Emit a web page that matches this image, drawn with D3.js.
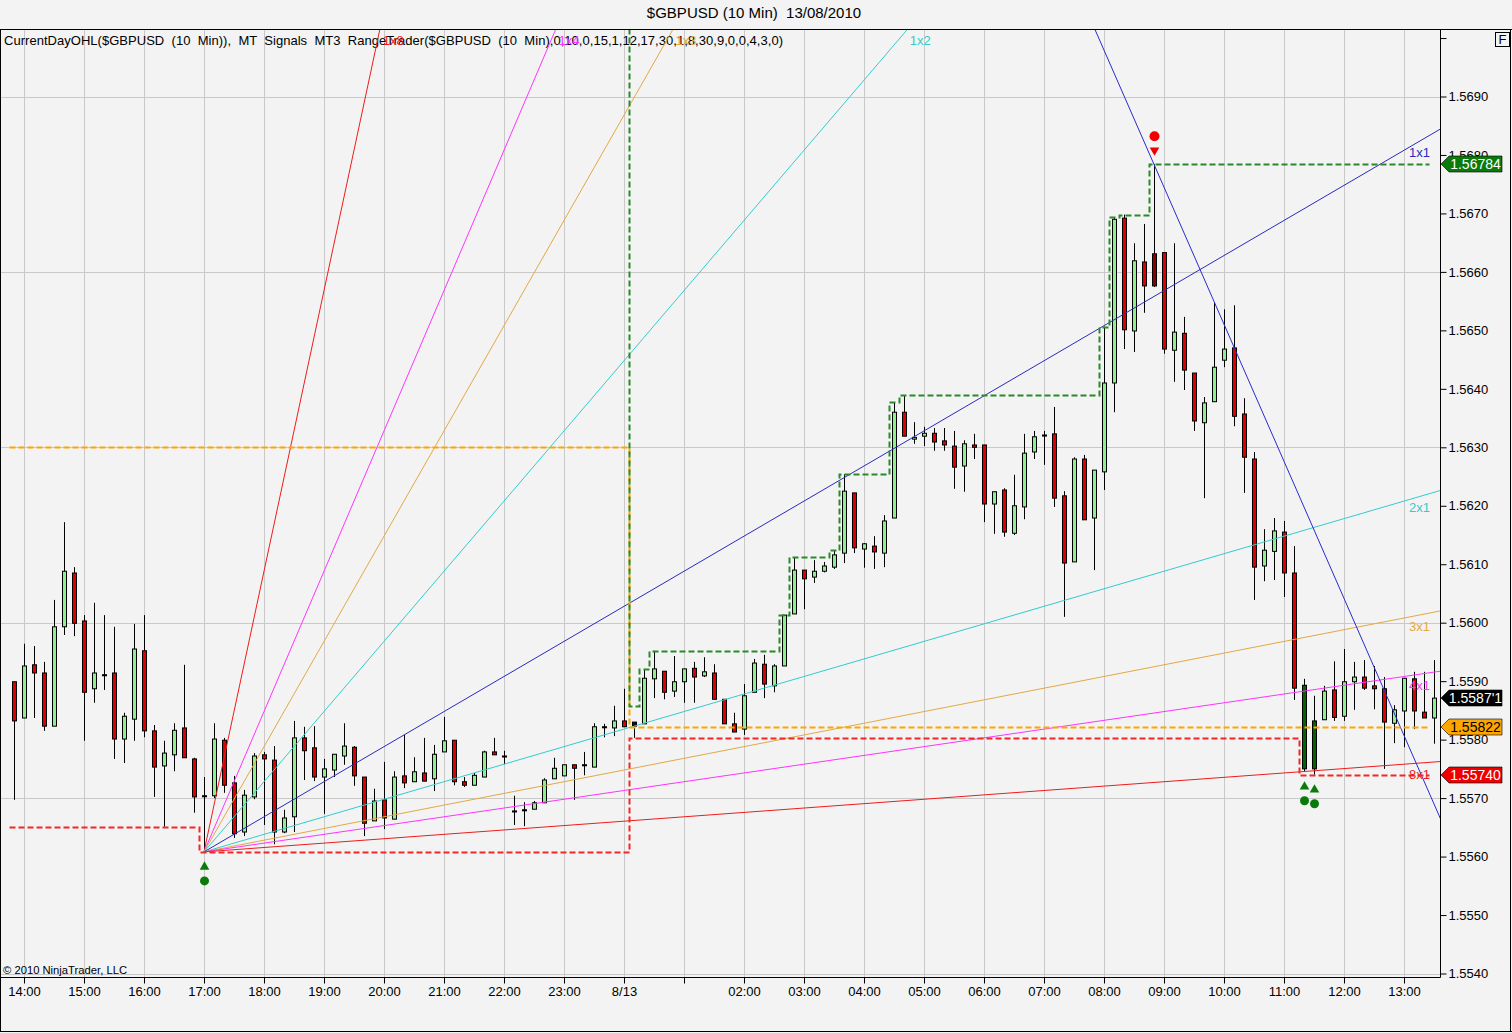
<!DOCTYPE html>
<html>
<head>
<meta charset="utf-8">
<script src="https://cdn.jsdelivr.net/npm/d3@7"></script>
<style>
  body { margin: 0; background: #f3f3f3; }
  svg { display: block; font-family: "Liberation Sans", Arial, sans-serif; }
  .pre { white-space: pre; }
</style>
</head>
<body>
<svg id="chart" width="1512" height="1033"></svg>
<script>
// ---- data ----
const firstBar = "2010-08-12 13:50";
const barMinutes = 10;

const open = [1.55899,1.55837,1.55928,1.55914,1.55823,1.55993,1.56085,1.56003,1.55887,1.55911,
  1.55914,1.55801,1.55835,1.55952,1.55815,1.55755,1.55774,1.55820,1.55767,1.55704,
  1.55704,1.55799,1.55726,1.55642,1.55702,1.55774,1.55765,1.55642,1.55668,1.55803,
  1.55786,1.55736,1.55748,1.55772,1.55787,1.55736,1.55661,1.55697,1.55664,1.55738,
  1.55728,1.55743,1.55733,1.55779,1.55799,1.55728,1.55722,1.55736,1.55779,1.55772,
  1.55678,1.55680,1.55681,1.55692,1.55733,1.55738,1.55757,1.55757,1.55753,1.55822,
  1.55820,1.55832,1.55830,1.55827,1.55904,1.55917,1.55883,1.55899,1.55922,1.55909,
  1.55914,1.55869,1.55827,1.55818,1.55881,1.55929,1.55892,1.55926,1.56015,1.56090,
  1.56078,1.56088,1.56095,1.56119,1.56222,1.56126,1.56131,1.56119,1.56179,1.56360,
  1.56314,1.56319,1.56324,1.56311,1.56302,1.56268,1.56304,1.56304,1.56203,1.56227,
  1.56153,1.56198,1.56292,1.56321,1.56323,1.56217,1.56104,1.56280,1.56179,1.56258,
  1.56410,1.56692,1.56499,1.56617,1.56631,1.56633,1.56466,1.56495,1.56427,1.56342,
  1.56378,1.56449,1.56470,1.56357,1.56280,1.56097,1.56122,1.56155,1.56085,1.55893,
  1.55750,1.55834,1.55885,1.55840,1.55899,1.55907,1.55892,1.55887,1.55828,1.55849,
  1.55904,1.55847,1.55837];
const high = [1.55899,1.55964,1.55960,1.55933,1.56039,1.56172,1.56095,1.56013,1.56034,1.56013,
  1.55993,1.55846,1.55998,1.56013,1.55825,1.55798,1.55828,1.55928,1.55769,1.55736,
  1.55828,1.55803,1.55738,1.55714,1.55777,1.55779,1.55789,1.55680,1.55832,1.55822,
  1.55823,1.55767,1.55775,1.55828,1.55789,1.55736,1.55716,1.55762,1.55746,1.55808,
  1.55770,1.55803,1.55791,1.55839,1.55799,1.55736,1.55743,1.55781,1.55803,1.55781,
  1.55704,1.55693,1.55695,1.55734,1.55769,1.55757,1.55757,1.55779,1.55828,1.55827,
  1.55858,1.55887,1.55830,1.55921,1.55952,1.55917,1.55943,1.55921,1.55933,1.55941,
  1.55929,1.55869,1.55846,1.55895,1.55938,1.55945,1.55929,1.56013,1.56112,1.56090,
  1.56107,1.56104,1.56124,1.56254,1.56222,1.56136,1.56148,1.56184,1.56377,1.56389,
  1.56343,1.56335,1.56333,1.56333,1.56328,1.56312,1.56323,1.56304,1.56224,1.56230,
  1.56253,1.56323,1.56328,1.56328,1.56369,1.56225,1.56283,1.56287,1.56261,1.56506,
  1.56694,1.56698,1.56649,1.56682,1.56784,1.56633,1.56649,1.56523,1.56427,1.56386,
  1.56548,1.56536,1.56543,1.56384,1.56292,1.56160,1.56179,1.56174,1.56131,1.55904,
  1.55875,1.55892,1.55934,1.55955,1.55933,1.55936,1.55926,1.55907,1.55859,1.55905,
  1.55916,1.55916,1.55936];
const low = [1.55697,1.55837,1.55837,1.55815,1.55823,1.55979,1.55977,1.55798,1.55863,1.55885,
  1.55767,1.55760,1.55798,1.55804,1.55702,1.55651,1.55746,1.55769,1.55675,1.55608,
  1.55700,1.55709,1.55632,1.55635,1.55698,1.55654,1.55621,1.55640,1.55642,1.55731,
  1.55729,1.55673,1.55736,1.55757,1.55721,1.55635,1.55661,1.55647,1.55664,1.55717,
  1.55728,1.55729,1.55712,1.55779,1.55722,1.55719,1.55722,1.55736,1.55774,1.55758,
  1.55654,1.55652,1.55681,1.55692,1.55733,1.55738,1.55697,1.55739,1.55753,1.55804,
  1.55806,1.55822,1.55803,1.55827,1.55871,1.55869,1.55873,1.55863,1.55863,1.55907,
  1.55869,1.55827,1.55813,1.55808,1.55881,1.55871,1.55881,1.55926,1.56015,1.56023,
  1.56068,1.56086,1.56092,1.56102,1.56119,1.56094,1.56092,1.56095,1.56179,1.56319,
  1.56306,1.56302,1.56294,1.56294,1.56229,1.56224,1.56280,1.56172,1.56152,1.56147,
  1.56150,1.56177,1.56280,1.56270,1.56198,1.56010,1.56104,1.56176,1.56090,1.56227,
  1.56360,1.56468,1.56463,1.56530,1.56574,1.56460,1.56412,1.56398,1.56328,1.56213,
  1.56378,1.56437,1.56336,1.56222,1.56039,1.56071,1.56073,1.56044,1.55868,1.55745,
  1.55740,1.55834,1.55832,1.55832,1.55851,1.55885,1.55852,1.55750,1.55794,1.55787,
  1.55818,1.55837,1.55793];
const close = [1.55832,1.55926,1.55914,1.55823,1.55993,1.56088,1.55999,1.55881,1.55914,1.55911,
  1.55801,1.55840,1.55955,1.55815,1.55753,1.55777,1.55816,1.55769,1.55702,1.55704,
  1.55801,1.55722,1.55639,1.55705,1.55772,1.55767,1.55642,1.55666,1.55803,1.55781,
  1.55736,1.55750,1.55775,1.55789,1.55738,1.55657,1.55695,1.55666,1.55736,1.55726,
  1.55745,1.55729,1.55775,1.55798,1.55728,1.55722,1.55739,1.55779,1.55774,1.55772,
  1.55678,1.55680,1.55692,1.55731,1.55751,1.55757,1.55751,1.55757,1.55822,1.55822,
  1.55832,1.55822,1.55823,1.55905,1.55921,1.55881,1.55899,1.55921,1.55907,1.55916,
  1.55869,1.55827,1.55813,1.55875,1.55931,1.55895,1.55926,1.56013,1.56090,1.56075,
  1.56088,1.56097,1.56116,1.56225,1.56128,1.56135,1.56121,1.56174,1.56360,1.56319,
  1.56317,1.56324,1.56309,1.56304,1.56266,1.56306,1.56300,1.56203,1.56224,1.56155,
  1.56200,1.56290,1.56318,1.56321,1.56213,1.56102,1.56280,1.56176,1.56261,1.56410,
  1.56690,1.56501,1.56619,1.56576,1.56576,1.56468,1.56497,1.56432,1.56345,1.56376,
  1.56437,1.56468,1.56353,1.56283,1.56095,1.56124,1.56157,1.56085,1.55888,1.55750,
  1.55832,1.55883,1.55838,1.55899,1.55907,1.55888,1.55887,1.55830,1.55851,1.55905,
  1.55849,1.55837,1.55871];

// CurrentDayOHL step levels (bar index where each level starts)
const dayOpenBars = [0, 62];
const dayOpenValues = [1.56300, 1.55822];
const dayHighBars = [0, 62, 63, 64, 77, 78, 82, 83, 88, 89, 109, 110, 111, 114];
const dayHighValues = [1.5725, 1.55858, 1.55921, 1.55952, 1.56013, 1.56112, 1.56124,
  1.56254, 1.56377, 1.56389, 1.56506, 1.56694, 1.56698, 1.56784];
const dayLowBars = [0, 19, 62, 129];
const dayLowValues = [1.55650, 1.55608, 1.55803, 1.55740];

// Gann fan from the 17:00 low
const gannOriginBar = 19;
const gannOriginPrice = 1.55608;
const gannNames = ["1x8", "1x4", "1x3", "1x2", "1x1", "2x1", "3x1", "4x1", "8x1"];
const gannPipsPerBar = [8, 4, 3, 2, 1, 1 / 2, 1 / 3, 1 / 4, 1 / 8];

// descending trend line through the 08:50 high
const trendBars = [114, 142];
const trendPrices = [1.56784, 1.55690];

// MT signals and painted bars
const buySignalBars = [19, 129, 130];
const sellSignalBars = [114];
const paintedBars = [62, 114, 129, 130];
const paintedKinds = ["flat", "sell", "buy", "buy"];

// price markers on the axis
const tagNames = ["high", "last", "open", "low"];
const tagValues = [1.56784, 1.55871, 1.55822, 1.55740];

// axis ticks
const yTickValues = [1.5540, 1.5550, 1.5560, 1.5570, 1.5580, 1.5590, 1.5600, 1.5610, 1.5620,
  1.5630, 1.5640, 1.5650, 1.5660, 1.5670, 1.5680, 1.5690, 1.5700];
const yTickLabels = ["1.5540", "1.5550", "1.5560", "1.5570", "1.5580", "1.5590", "1.5600", "1.5610",
  "1.5620", "1.5630", "1.5640", "1.5650", "1.5660", "1.5670", "1.5680", "1.5690", ""];
const yGridValues = [1.5540, 1.5570, 1.5600, 1.5630, 1.5660, 1.5690];
const xTickLabels = ["14:00", "15:00", "16:00", "17:00", "18:00", "19:00", "20:00", "21:00",
  "22:00", "23:00", "8/13", "", "02:00", "03:00", "04:00", "05:00", "06:00", "07:00", "08:00",
  "09:00", "10:00", "11:00", "12:00", "13:00"];

// ---- layout ----
const W = 1512, H = 1033;
const plot = { left: 0, right: 1440, top: 30, bottom: 977 };
const pip = 0.0001;

const parse = d3.timeParse("%Y-%m-%d %H:%M");
const t0 = parse(firstBar);
const times = open.map((d, i) => d3.timeMinute.offset(t0, i * barMinutes));
const tickTimes = d3.timeHour.range(parse("2010-08-12 14:00"), parse("2010-08-13 13:01"));

const x = d3.scaleTime()
  .domain([parse("2010-08-12 13:36"), parse("2010-08-13 13:36")])
  .range([plot.left, plot.right]);
const y = d3.scaleLinear()
  .domain([1.5540, 1.5690])
  .range([973.5, 96.5]);

const svg = d3.select("#chart");

svg.append("rect").attr("width", W).attr("height", H).attr("fill", "#f3f3f3");

svg.append("defs").append("clipPath").attr("id", "plotClip")
  .append("rect")
  .attr("x", plot.left).attr("y", plot.top)
  .attr("width", plot.right - plot.left).attr("height", plot.bottom - plot.top);

// title
svg.append("text")
  .attr("x", 754).attr("y", 18)
  .attr("text-anchor", "middle")
  .attr("font-size", 15)
  .attr("class", "pre")
  .text("$GBPUSD (10 Min)  13/08/2010");

// grid
const grid = svg.append("g");
grid.selectAll(".vg").data(tickTimes).enter().append("line")
  .attr("x1", d => Math.round(x(d)) + 0.5).attr("x2", d => Math.round(x(d)) + 0.5)
  .attr("y1", plot.top).attr("y2", plot.bottom)
  .attr("stroke", "#c9c9c9");
grid.selectAll(".hg").data(yGridValues).enter().append("line")
  .attr("x1", plot.left).attr("x2", plot.right)
  .attr("y1", d => Math.round(y(d)) + 0.5).attr("y2", d => Math.round(y(d)) + 0.5)
  .attr("stroke", "#c9c9c9");

// legend + copyright
svg.append("text")
  .attr("x", 4).attr("y", 45)
  .attr("font-size", 13)
  .attr("class", "pre")
  .attr("textLength", 779).attr("lengthAdjust", "spacing")
  .text("CurrentDayOHL($GBPUSD  (10  Min)),  MT  Signals  MT3  RangeTrader($GBPUSD  (10  Min),0,10,0,15,1,12,17,30,1,8,30,9,0,0,4,3,0)");

svg.append("text")
  .attr("x", 3).attr("y", 974)
  .attr("font-size", 11)
  .attr("textLength", 124).attr("lengthAdjust", "spacingAndGlyphs")
  .text("\u00a9 2010 NinjaTrader, LLC");

// ---- candles ----
const paintColor = { flat: "#111111", sell: "#8b0000", buy: "#006400" };
const bars = open.map((o, i) => ({
  i, t: times[i], o, h: high[i], l: low[i], c: close[i],
  paint: paintedBars.includes(i) ? paintColor[paintedKinds[paintedBars.indexOf(i)]] : null
}));

const plotG = svg.append("g").attr("clip-path", "url(#plotClip)");
const candles = plotG.append("g").selectAll("g").data(bars).enter().append("g");

candles.append("line")
  .attr("x1", d => Math.round(x(d.t)) + 0.5)
  .attr("x2", d => Math.round(x(d.t)) + 0.5)
  .attr("y1", d => y(d.h))
  .attr("y2", d => y(d.l))
  .attr("stroke", "#000");

candles.append("rect")
  .attr("x", d => Math.round(x(d.t)) - 1.5)
  .attr("width", 4)
  .attr("y", d => Math.min(y(d.o), y(d.c)))
  .attr("height", d => Math.max(Math.abs(y(d.o) - y(d.c)), 1))
  .attr("fill", d => d.paint ? d.paint : d.c > d.o ? "#90ee90" : d.c < d.o ? "#dd0000" : "#000")
  .attr("stroke", "#000")
  .attr("stroke-width", 1);

// ---- Gann fan ----
const gannColor = {
  "1x8": "#ee1c1c", "8x1": "#ee1c1c",
  "1x4": "#ff33ff", "4x1": "#ff33ff",
  "1x3": "#e3a845", "3x1": "#e3a845",
  "1x2": "#33cccc", "2x1": "#33cccc",
  "1x1": "#2a2abf"
};
const gx0 = x(times[gannOriginBar]);
const gy0 = y(gannOriginPrice);
const farBars = 200;
const farTime = d3.timeMinute.offset(times[gannOriginBar], farBars * barMinutes);

const fan = gannNames.map((name, k) => ({
  name,
  x2: x(farTime),
  y2: y(gannOriginPrice + gannPipsPerBar[k] * pip * farBars)
}));

plotG.append("g").selectAll("line").data(fan).enter().append("line")
  .attr("x1", gx0).attr("y1", gy0)
  .attr("x2", d => d.x2).attr("y2", d => d.y2)
  .attr("stroke", d => gannColor[d.name])
  .attr("stroke-width", 1);

svg.append("g").selectAll("text").data(fan).enter().append("text")
  .attr("font-size", 13)
  .attr("fill", d => gannColor[d.name])
  .each(function (d) {
    const slope = (d.y2 - gy0) / (d.x2 - gx0);
    const xTop = gx0 + (plot.top - gy0) / slope;
    const sel = d3.select(this);
    if (xTop < plot.right) {
      sel.attr("x", xTop + 3).attr("y", 45);
    } else {
      sel.attr("x", 1409).attr("y", gy0 + slope * (1420 - gx0) + 16);
    }
  })
  .text(d => d.name);

// ---- descending trend line ----
const tSlope = (trendPrices[1] - trendPrices[0]) / (trendBars[1] - trendBars[0]);
const tA = trendBars[0] - 20, tB = trendBars[1] + 10;
plotG.append("line")
  .attr("x1", x(d3.timeMinute.offset(t0, tA * barMinutes)))
  .attr("y1", y(trendPrices[0] + tSlope * (tA - trendBars[0])))
  .attr("x2", x(d3.timeMinute.offset(t0, tB * barMinutes)))
  .attr("y2", y(trendPrices[0] + tSlope * (tB - trendBars[0])))
  .attr("stroke", "#2a2ad0")
  .attr("stroke-width", 1);

// ---- CurrentDayOHL step lines ----
function stepSeries(startBars, values) {
  return bars.map(b => {
    const k = d3.bisectRight(startBars, b.i) - 1;
    return { t: b.t, v: values[k] };
  });
}
const stepLine = d3.line()
  .x(d => Math.round(x(d.t)) - 4.5)
  .y(d => Math.round(y(d.v)) + 0.5)
  .curve(d3.curveStepAfter);

const levels = [
  { data: stepSeries(dayOpenBars, dayOpenValues), color: "#ffa500" },
  { data: stepSeries(dayLowBars, dayLowValues), color: "#f02828" },
  { data: stepSeries(dayHighBars, dayHighValues), color: "#2a8a2a" }
];
plotG.append("g").selectAll("path").data(levels).enter().append("path")
  .attr("d", d => stepLine(d.data))
  .attr("fill", "none")
  .attr("stroke", d => d.color)
  .attr("stroke-width", 2)
  .attr("stroke-dasharray", "6,3");

// ---- signals ----
const tri = d3.symbol().type(d3.symbolTriangle).size(40);
const sig = plotG.append("g");
buySignalBars.forEach(i => {
  const cx = Math.round(x(times[i])) + 0.5;
  const ly = y(low[i]);
  sig.append("path").attr("d", tri).attr("transform", `translate(${cx},${ly + 15})`).attr("fill", "#0a7a0a");
  sig.append("circle").attr("cx", cx).attr("cy", ly + 29).attr("r", 4.5).attr("fill", "#0a7a0a");
});
sellSignalBars.forEach(i => {
  const cx = Math.round(x(times[i])) + 0.5;
  const hy = y(high[i]);
  sig.append("path").attr("d", tri).attr("transform", `translate(${cx},${hy - 14}) rotate(180)`).attr("fill", "#ee0000");
  sig.append("circle").attr("cx", cx).attr("cy", hy - 28).attr("r", 5).attr("fill", "#ee0000");
});

// ---- axes ----
const yAxis = d3.axisRight(y)
  .tickValues(yTickValues)
  .tickFormat((d, i) => yTickLabels[i])
  .tickSize(6)
  .tickSizeOuter(0);
const yg = svg.append("g").attr("transform", `translate(${plot.right + 0.5},0)`).call(yAxis);
yg.select(".domain").remove();
yg.selectAll("text").attr("font-size", 13).attr("font-family", "Liberation Sans, Arial, sans-serif").attr("fill", "#000").attr("x", 8);

const xAxis = d3.axisBottom(x)
  .tickValues(tickTimes)
  .tickFormat((d, i) => xTickLabels[i])
  .tickSize(6)
  .tickSizeOuter(0);
const xg = svg.append("g").attr("transform", `translate(0,${plot.bottom + 0.5})`).call(xAxis);
xg.select(".domain").remove();
xg.selectAll("text").attr("font-size", 13).attr("font-family", "Liberation Sans, Arial, sans-serif").attr("fill", "#000");

// frame lines
const frame = svg.append("g").attr("stroke", "#000").attr("stroke-width", 1);
frame.append("line").attr("x1", 0).attr("x2", W).attr("y1", 29.5).attr("y2", 29.5);
frame.append("line").attr("x1", 0.5).attr("x2", 0.5).attr("y1", 29.5).attr("y2", H - 1.5);
frame.append("line").attr("x1", W - 1.5).attr("x2", W - 1.5).attr("y1", 29.5).attr("y2", H - 1.5);
frame.append("line").attr("x1", 0).attr("x2", W).attr("y1", H - 1.5).attr("y2", H - 1.5);
frame.append("line").attr("x1", plot.right + 0.5).attr("x2", plot.right + 0.5).attr("y1", 29.5).attr("y2", plot.bottom + 0.5);
frame.append("line").attr("x1", 0).attr("x2", plot.right + 0.5).attr("y1", plot.bottom + 0.5).attr("y2", plot.bottom + 0.5);

// "F" box
svg.append("rect").attr("x", 1495.5).attr("y", 32.5).attr("width", 14).attr("height", 14)
  .attr("fill", "#f3f3f3").attr("stroke", "#000");
svg.append("text").attr("x", 1502.5).attr("y", 44).attr("text-anchor", "middle")
  .attr("font-size", 13).text("F");

// ---- price tags ----
const tagStyle = {
  high: { bg: "#0b7a0b", fg: "#fff" },
  last: { bg: "#000", fg: "#fff" },
  open: { bg: "#ffa500", fg: "#000" },
  low: { bg: "#ee0000", fg: "#fff" }
};
const fmt5 = d3.format(".5f");
const tagText = (name, v) => {
  const s = fmt5(v);
  return name === "last" ? s.slice(0, 6) + "'" + s.slice(6) : s;
};
const tags = svg.append("g").selectAll("g").data(tagNames).enter().append("g")
  .attr("transform", (d, i) => `translate(0,${Math.round(y(tagValues[i]))})`);
tags.append("path")
  .attr("d", "M1441,0 L1449,-8 L1502,-8 L1502,8 L1449,8 Z")
  .attr("fill", d => tagStyle[d].bg)
  .attr("stroke", "#000")
  .attr("stroke-width", 0.6);
tags.append("text")
  .attr("x", 1475.5).attr("y", 5)
  .attr("text-anchor", "middle")
  .attr("font-size", 14)
  .attr("fill", d => tagStyle[d].fg)
  .text((d, i) => tagText(d, tagValues[i]));
</script>
</body>
</html>
